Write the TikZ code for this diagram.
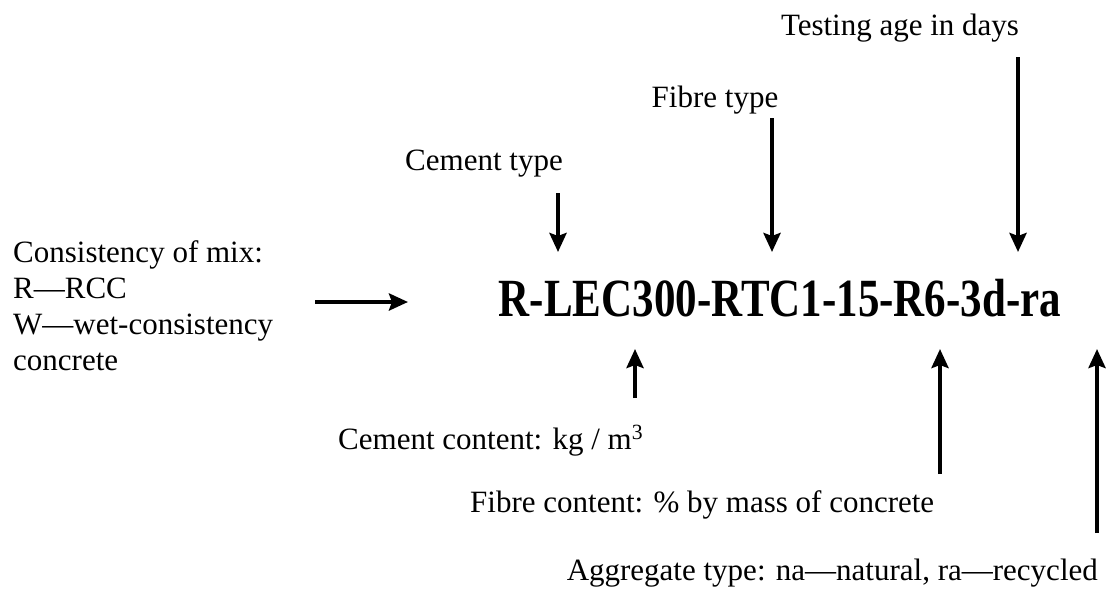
\documentclass[tikz,border=0pt]{standalone}
\usepackage{fontspec}
\usepackage{graphicx}
\setmainfont{Liberation Serif}
\usetikzlibrary{arrows.meta}
\tikzset{
  lbl/.style={font=\fontsize{31}{36}\selectfont, inner sep=0pt},
  code/.style={font=\fontsize{43}{50}\selectfont\bfseries, inner sep=0pt},
  arr/.style={line width=4.4pt, -{Stealth[length=19pt,width=17pt,inset=3pt]}}
}
\begin{document}
\begin{tikzpicture}[x=1pt,y=-1pt]
\useasboundingbox (0,0) rectangle (1107,589);
\node[code, anchor=base] (code) at (780,316) {\scalebox{1}[1.25]{R-LEC300-RTC1-15-R6-3d-ra}};
\node[lbl, anchor=base west, align=left] (mix) at (13,370) {Consistency of mix:\\R---RCC\\W---wet-consistency\\concrete};
\node[lbl, anchor=base] (age) at (900,35) {Testing age in days};
\node[lbl, anchor=base] (ftype) at (715,107) {Fibre type};
\node[lbl, anchor=base] (ctype) at (484,170) {Cement type};
\node[lbl, anchor=base west] (ccont) at (338,449) {Cement content: kg / m\textsuperscript{3}};
\node[lbl, anchor=base west] (fcont) at (470,512) {Fibre content: \% by mass of concrete};
\node[lbl, anchor=base east] (agg) at (1098,580) {Aggregate type: na---natural, ra---recycled};
\coordinate (h1) at (315,302); \coordinate (h2) at (408,302);
\coordinate (c1) at (558,193); \coordinate (c2) at (558,252);
\coordinate (f1) at (772,118); \coordinate (f2) at (772,252);
\coordinate (t1) at (1018,57); \coordinate (t2) at (1018,252);
\coordinate (u1) at (635,398); \coordinate (u2) at (635,349);
\coordinate (v1) at (940,474); \coordinate (v2) at (940,349);
\coordinate (w1) at (1097,533); \coordinate (w2) at (1097,349);
\draw[arr] (h1) -- (h2);
\draw[arr] (c1) -- (c2);
\draw[arr] (f1) -- (f2);
\draw[arr] (t1) -- (t2);
\draw[arr] (u1) -- (u2);
\draw[arr] (v1) -- (v2);
\draw[arr] (w1) -- (w2);
\end{tikzpicture}
\end{document}
